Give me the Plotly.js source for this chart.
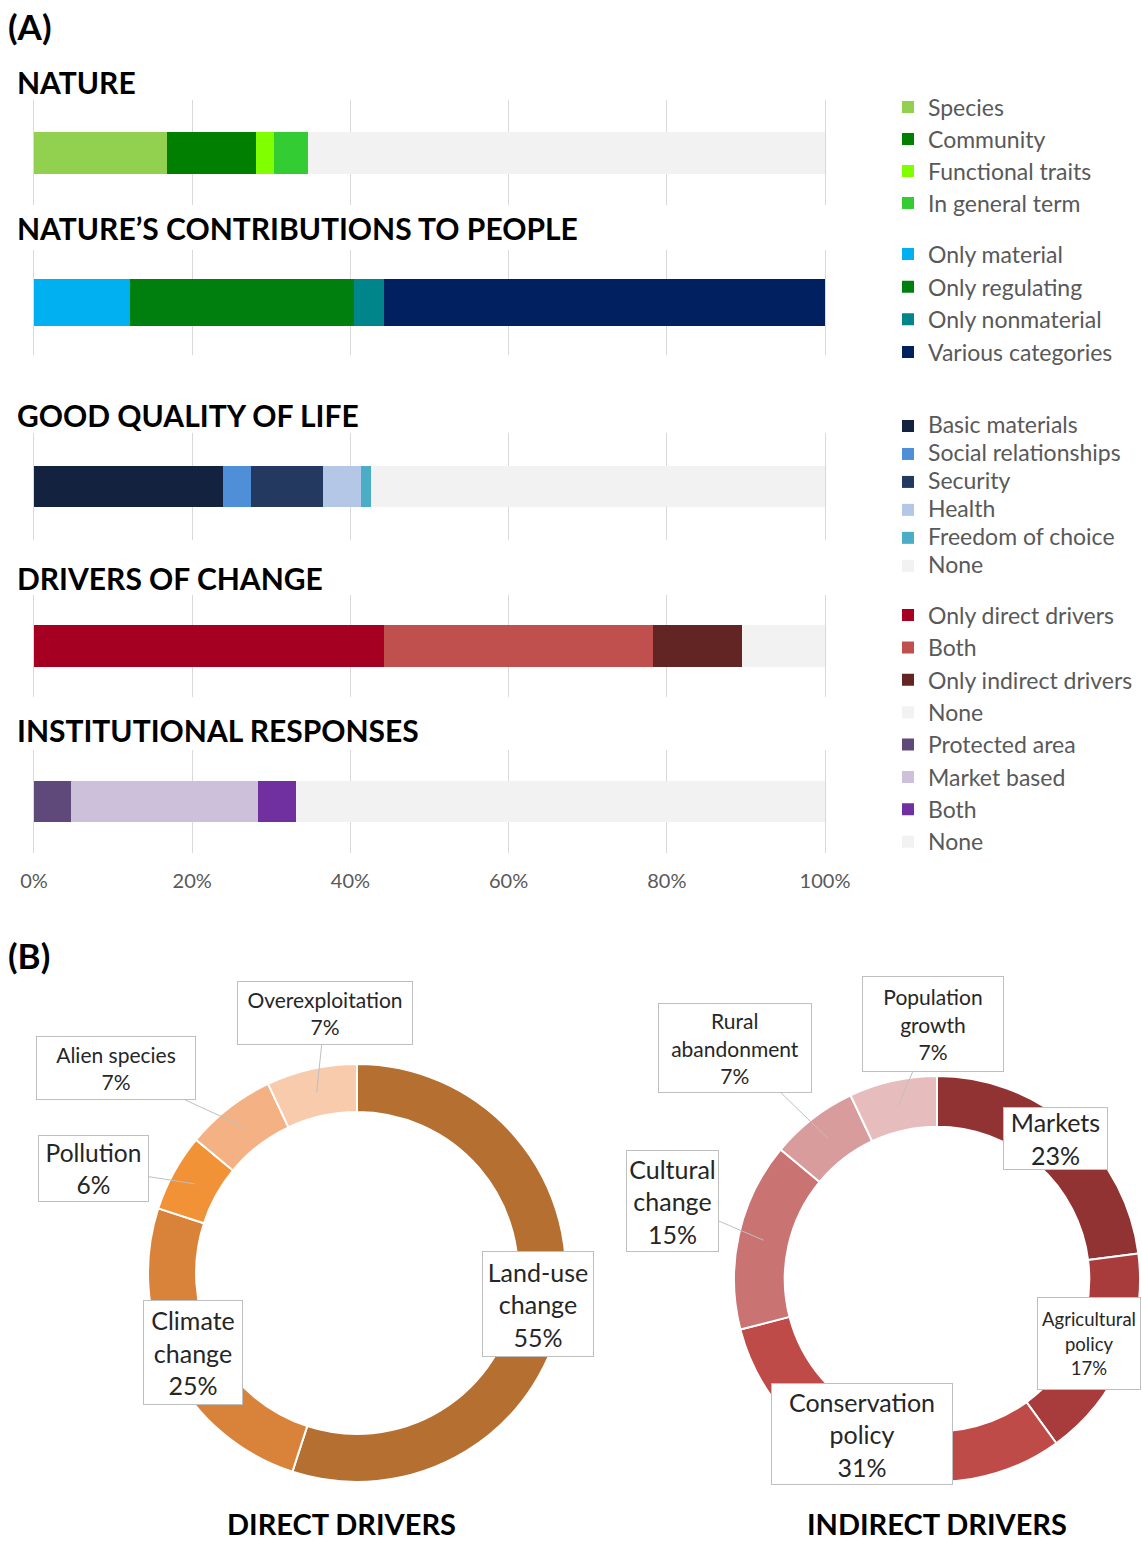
<!DOCTYPE html>
<html><head><meta charset="utf-8">
<script src="https://cdn.plot.ly/plotly-3.0.1.min.js"></script>
<style>html,body{margin:0;padding:0;background:#fff}</style>
</head><body><div id="chart" style="width:1142px;height:1542px"></div>
<script>
// ---------------- DATA ----------------
const natureCats = ['Species', 'Community', 'Functional traits', 'In general term', 'None'];
const natureVals = [16.8, 11.3, 2.2, 4.3, 65.4];
const ncpCats = ['Only material', 'Only regulating', 'Only nonmaterial', 'Various categories'];
const ncpVals = [12.2, 28.2, 3.8, 55.8];
const gqlCats = ['Basic materials', 'Social relationships', 'Security', 'Health', 'Freedom of choice', 'None'];
const gqlVals = [23.9, 3.5, 9.1, 4.9, 1.2, 57.4];
const driverCats = ['Only direct drivers', 'Both', 'Only indirect drivers', 'None'];
const driverVals = [44.3, 33.9, 11.3, 10.5];
const instCats = ['Protected area', 'Market based', 'Both', 'None'];
const instVals = [4.7, 23.6, 4.8, 66.9];
const panelTitles = ['NATURE', 'NATURE\u2019S CONTRIBUTIONS TO PEOPLE', 'GOOD QUALITY OF LIFE', 'DRIVERS OF CHANGE', 'INSTITUTIONAL RESPONSES'];
const xTickVals = [0, 20, 40, 60, 80, 100];
const xTickText = ['0%', '20%', '40%', '60%', '80%', '100%'];
const directLabels = ['Land-use change', 'Climate change', 'Pollution', 'Alien species', 'Overexploitation'];
const directVals = [55, 25, 6, 7, 7];
const indirectLabels = ['Markets', 'Agricultural policy', 'Conservation policy', 'Cultural change', 'Rural abandonment', 'Population growth'];
const indirectVals = [23, 17, 31, 15, 7, 7];
const donutTitles = ['DIRECT DRIVERS', 'INDIRECT DRIVERS'];
const panelLetters = ['(A)', '(B)'];

// ---------------- STYLE / LAYOUT ----------------
const W = 1142, H = 1542;
const px = p => p / W;
const py = p => 1 - p / H;
const FONT = 'Lato, "Open Sans", sans-serif';
const NONE_C = '#F2F2F2';

const panels = [
  {cats: natureCats, vals: natureVals, colors: ['#92D050', '#007F00', '#80FF00', '#33CC33', NONE_C], legendShow: [1,1,1,1,0], legend: 'legend', grid: [100, 205], title: 82, width: 0.4},
  {cats: ncpCats, vals: ncpVals, colors: ['#00B0F0', '#007F0E', '#00858A', '#002060'], legendShow: [1,1,1,1], legend: 'legend2', grid: [250, 355], title: 228, width: 0.44},
  {cats: gqlCats, vals: gqlVals, colors: ['#13233F', '#4F8FD8', '#24395F', '#B4C7E7', '#4BACC6', NONE_C], legendShow: [1,1,1,1,1,1], legend: 'legend3', grid: [433, 540], title: 415, width: 0.39},
  {cats: driverCats, vals: driverVals, colors: ['#A50021', '#C0504D', '#632523', NONE_C], legendShow: [1,1,1,1], legend: 'legend4', grid: [595, 697], title: 578, width: 0.41},
  {cats: instCats, vals: instVals, colors: ['#5F497A', '#CCC0DA', '#7030A0', NONE_C], legendShow: [1,1,1,1], legend: 'legend4', grid: [750, 853], title: 730, width: 0.4}
];

const traces = [];
const layout = {
  width: W, height: H,
  margin: {l: 0, r: 0, t: 0, b: 0},
  paper_bgcolor: '#fff', plot_bgcolor: 'rgba(0,0,0,0)',
  barmode: 'stack',
  showlegend: true,
  font: {family: FONT, color: '#404040'},
  annotations: [],
  hovermode: false
};

panels.forEach((p, i) => {
  const n = i + 1;
  const xa = 'xaxis' + (n === 1 ? '' : n), ya = 'yaxis' + (n === 1 ? '' : n);
  const xid = 'x' + (n === 1 ? '' : n), yid = 'y' + (n === 1 ? '' : n);
  p.cats.forEach((c, j) => {
    traces.push({
      type: 'bar', orientation: 'h',
      x: [p.vals[j]], y: [0],
      xaxis: xid, yaxis: yid,
      name: '<span style="font-size:23px">' + c + '</span>',
      width: p.width,
      marker: {color: p.colors[j], line: {width: 0}},
      legend: p.legend,
      showlegend: !!p.legendShow[j]
    });
  });
  layout[xa] = {
    domain: [px(30), px(829)], range: [-0.5, 100.5], anchor: yid,
    tickmode: 'array', tickvals: xTickVals, ticktext: xTickText,
    showticklabels: n === 5, ticks: '', ticklabelstandoff: 14,
    tickfont: {family: FONT, size: 20, color: '#595959'},
    showgrid: true, gridcolor: '#D9D9D9', gridwidth: 1,
    zeroline: false, showline: false, fixedrange: true
  };
  layout[ya] = {
    domain: [py(p.grid[1]), py(p.grid[0])], range: [-0.5, 0.5], anchor: xid,
    showticklabels: false, showgrid: false, zeroline: false, showline: false, fixedrange: true
  };
  layout.annotations.push({
    xref: 'paper', yref: 'paper', x: px(15), y: py(p.title), xanchor: 'left', yanchor: 'middle',
    text: '<b>' + panelTitles[i] + '</b>', showarrow: false,
    font: {family: FONT, size: 30, color: '#000'}
  });
});

// legends
const legendCfg = [
  {key: 'legend', first: 109, size: 22.3},
  {key: 'legend2', first: 256, size: 22.8},
  {key: 'legend3', first: 428, size: 19.2},
  {key: 'legend4', first: 617, size: 22.6}
];
legendCfg.forEach(l => {
  const h = 1.3 * l.size + 3;
  layout[l.key] = {
    x: px(888), xanchor: 'left', y: py(l.first - 7 - h / 2), yanchor: 'top',
    orientation: 'v', traceorder: 'normal', bgcolor: 'rgba(0,0,0,0)', borderwidth: 0,
    font: {family: FONT, size: l.size, color: '#595959'}, tracegroupgap: 0, itemclick: false
  };
});

// panel letters
[[26, 0], [955, 1]].forEach(([y, k]) => {
  layout.annotations.push({
    xref: 'paper', yref: 'paper', x: px(6), y: py(y), xanchor: 'left', yanchor: 'middle',
    text: '<b>' + panelLetters[k] + '</b>', showarrow: false,
    font: {family: FONT, size: 35, color: '#000'}
  });
});

// donuts
const donuts = [
  {labels: directLabels, vals: directVals, cx: 357, cy: 1273, r: 209, hole: 0.77,
   colors: ['#B46F31', '#D9833A', '#F29237', '#F4B183', '#F8CBAD'],
   title: {x: 341, y: 1523},
   boxes: [
     {cx: 538, cy: 1304, w: 112, h: 106, fs: 25, wrap: true, ptr: false},
     {cx: 193, cy: 1352, w: 100, h: 105, fs: 25, wrap: true, ptr: false},
     {cx: 93, cy: 1168, w: 111, h: 67, fs: 24.5, wrap: false, ptr: true},
     {cx: 116, cy: 1068, w: 160, h: 64, fs: 21, wrap: false, ptr: true},
     {cx: 325, cy: 1013, w: 176, h: 64, fs: 21, wrap: false, ptr: true}
   ]},
  {labels: indirectLabels, vals: indirectVals, cx: 937, cy: 1279, r: 203, hole: 0.75,
   colors: ['#923333', '#A83B3B', '#BF4B48', '#C97372', '#D79C9B', '#E6BDBC'],
   title: {x: 937, y: 1523},
   boxes: [
     {cx: 1055, cy: 1138, w: 105, h: 63, fs: 25, wrap: false, ptr: false},
     {cx: 1089, cy: 1343, w: 104, h: 93, fs: 18.5, wrap: true, ptr: false},
     {cx: 862, cy: 1434, w: 182, h: 102, fs: 25, wrap: true, ptr: false},
     {cx: 672, cy: 1201, w: 93, h: 102, fs: 25, wrap: true, ptr: true},
     {cx: 735, cy: 1048, w: 154, h: 90, fs: 21, wrap: true, ptr: true},
     {cx: 933, cy: 1024, w: 142, h: 96, fs: 21, wrap: true, ptr: true}
   ]}
];

donuts.forEach((d, k) => {
  traces.push({
    type: 'pie', labels: d.labels, values: d.vals, hole: d.hole,
    sort: false, direction: 'clockwise', rotation: 0,
    textinfo: 'none', showlegend: false,
    marker: {colors: d.colors, line: {color: '#fff', width: 2}},
    domain: {x: [px(d.cx - d.r), px(d.cx + d.r)], y: [py(d.cy + d.r), py(d.cy - d.r)]}
  });
  const total = d.vals.reduce((a, b) => a + b, 0);
  let cum = 0;
  const rm = d.r * (1 + d.hole) / 2;
  d.vals.forEach((v, j) => {
    const mid = (cum + v / 2) / total;
    cum += v;
    const th = mid * 2 * Math.PI;
    const tx = d.cx + rm * Math.sin(th), ty = d.cy - rm * Math.cos(th);
    const b = d.boxes[j];
    const name = b.wrap ? d.labels[j].split(' ').join('<br>') : d.labels[j];
    const text = name + '<br>' + Math.round(v / total * 100) + '%';
    const ann = {
      xref: 'paper', yref: 'paper', text: text,
      width: b.w - 2, height: b.h - 2, align: 'center', valign: 'middle',
      bgcolor: '#fff', bordercolor: '#BFBFBF', borderwidth: 1, borderpad: 0,
      font: {family: FONT, size: b.fs, color: '#262626'}
    };
    if (b.ptr) {
      Object.assign(ann, {x: px(tx), y: py(ty), showarrow: true, arrowhead: 0, arrowwidth: 1,
        arrowcolor: '#BFBFBF', ax: b.cx - tx, ay: b.cy - ty, standoff: 0});
    } else {
      Object.assign(ann, {x: px(b.cx), y: py(b.cy), xanchor: 'center', yanchor: 'middle', showarrow: false});
    }
    layout.annotations.push(ann);
  });
  layout.annotations.push({
    xref: 'paper', yref: 'paper', x: px(d.title.x), y: py(d.title.y), xanchor: 'center', yanchor: 'middle',
    text: '<b>' + donutTitles[k] + '</b>', showarrow: false,
    font: {family: FONT, size: 29, color: '#000'}
  });
});

Plotly.newPlot('chart', traces, layout, {displayModeBar: false, staticPlot: true});
</script></body></html>
